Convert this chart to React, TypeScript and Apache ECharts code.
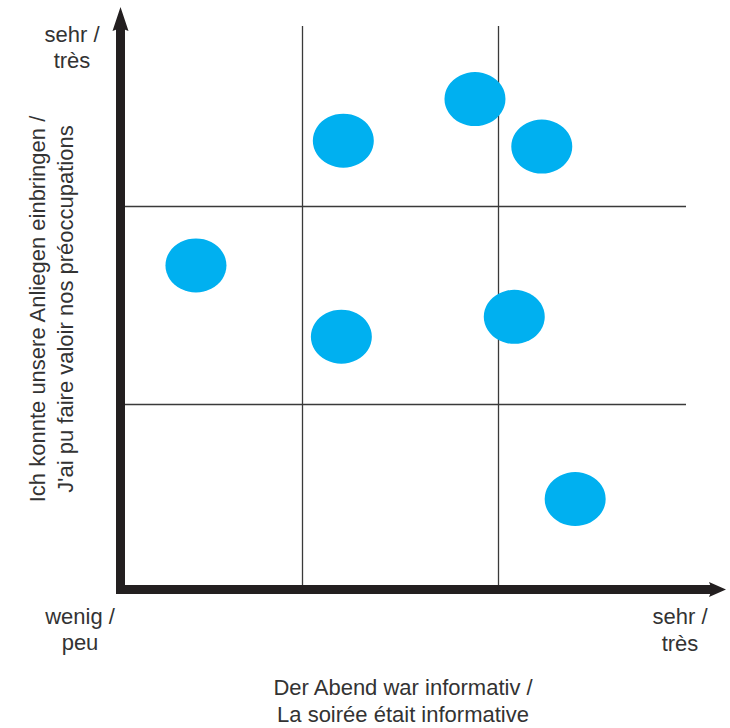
import React, { useEffect, useRef } from "react";
import * as echarts from "echarts";

// Ratings (x: "Der Abend war informativ", y: "Ich konnte unsere Anliegen einbringen")
const xValues = [0.46, 1.2, 1.21, 1.88, 2.22, 2.08, 2.39];
const yValues = [1.7, 1.34, 2.33, 2.54, 2.3, 1.44, 0.52];
const xDividers = [1, 2];
const yDividers = [1, 2];
const xRange = [0.076, 2.954];
const yRange = [0.063, 2.909];

const xLowLabel = "wenig /\npeu";
const xHighLabel = "sehr /\ntrès";
const yHighLabel = "sehr /\ntrès";
const xTitle = "Der Abend war informativ /\nLa soirée était informative";
const yTitle = "Ich konnte unsere Anliegen einbringen /\nJ'ai pu faire valoir nos préoccupations";

const FONT = "'Liberation Sans', Arial, Helvetica, sans-serif";
const TEXT_COLOR = "#333333";
const AXIS_COLOR = "#231f20";

export default function App() {
  const ref = useRef<HTMLDivElement>(null);

  useEffect(() => {
    if (!ref.current) return;
    const chart = echarts.init(ref.current, undefined, { renderer: "svg" });

    const textStyle = (text: string, lineHeight: number) => ({
      text,
      fontSize: 22,
      fontFamily: FONT,
      fill: TEXT_COLOR,
      align: "center",
      verticalAlign: "middle",
      lineHeight,
    });

    const option: any = {
      animation: false,
      backgroundColor: "#ffffff",
      grid: {
        left: 120.5,
        top: 26,
        right: 44,
        bottom: 138.5,
        containLabel: false,
        outerBoundsMode: "none",
      },
      xAxis: {
        type: "value",
        min: xRange[0],
        max: xRange[1],
        axisLine: { show: false },
        axisTick: { show: false },
        axisLabel: { show: false },
        splitLine: { show: false },
      },
      yAxis: {
        type: "value",
        min: yRange[0],
        max: yRange[1],
        axisLine: { show: false },
        axisTick: { show: false },
        axisLabel: { show: false },
        splitLine: { show: false },
      },
      series: [
        {
          type: "scatter",
          z: 1,
          data: [],
          silent: true,
          markLine: {
            z: 1,
            silent: true,
            symbol: ["none", "none"],
            label: { show: false },
            lineStyle: { color: "#3a3a3a", width: 1.3, type: "solid" },
            emphasis: { disabled: true },
            data: [
              ...xDividers.map((v) => ({ xAxis: v })),
              ...yDividers.map((v) => ({ yAxis: v })),
            ],
          },
        },
        {
          type: "scatter",
          z: 3,
          symbol: "circle",
          symbolSize: [61, 54],
          itemStyle: { color: "#00B0F0", opacity: 1 },
          data: xValues.map((x, i) => [x, yValues[i]]),
        },
      ],
      graphic: [
        // Y axis shaft and arrow
        {
          type: "line",
          z: 10,
          shape: { x1: 120.5, y1: 594, x2: 120.5, y2: 26 },
          style: { stroke: AXIS_COLOR, lineWidth: 9, lineCap: "butt" },
        },
        {
          type: "polygon",
          z: 10,
          shape: {
            points: [
              [120.5, 7],
              [128.5, 31],
              [120.5, 28],
              [112.5, 31],
            ],
          },
          style: { fill: AXIS_COLOR },
        },
        // X axis shaft and arrow
        {
          type: "line",
          z: 10,
          shape: { x1: 116, y1: 589.5, x2: 714, y2: 589.5 },
          style: { stroke: AXIS_COLOR, lineWidth: 9, lineCap: "butt" },
        },
        {
          type: "polygon",
          z: 10,
          shape: {
            points: [
              [726, 589.5],
              [709, 582],
              [712, 589.5],
              [709, 597],
            ],
          },
          style: { fill: AXIS_COLOR },
        },
        // Texts
        { type: "text", z: 10, x: 72, y: 47, style: textStyle(yHighLabel, 26) },
        { type: "text", z: 10, x: 80, y: 629, style: textStyle(xLowLabel, 26) },
        { type: "text", z: 10, x: 680, y: 630, style: textStyle(xHighLabel, 27) },
        { type: "text", z: 10, x: 403, y: 700.5, style: textStyle(xTitle, 27) },
        {
          type: "text",
          z: 10,
          x: 51,
          y: 309,
          rotation: Math.PI / 2,
          style: textStyle(yTitle, 28),
        },
      ],
    };

    chart.setOption(option);
    return () => chart.dispose();
  }, []);

  return (
    <div
      ref={ref}
      style={{ position: "fixed", left: 0, top: 0, width: 730, height: 728, background: "#fff" }}
    />
  );
}
